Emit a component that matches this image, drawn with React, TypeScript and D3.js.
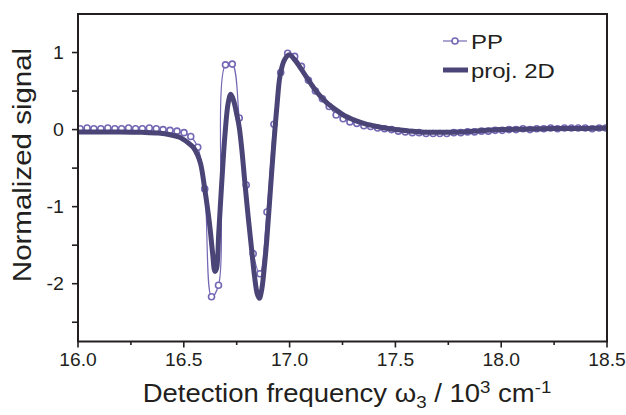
import React from 'react'
import * as d3 from 'd3'

// pump-probe spectrum (circles + thin line)
const ppFreq = [
  16.01, 16.043, 16.075, 16.108, 16.141, 16.174, 16.206, 16.239, 16.272, 16.304,
  16.337, 16.37, 16.402, 16.435, 16.468, 16.501, 16.533, 16.566, 16.599, 16.631,
  16.664, 16.697, 16.729, 16.762, 16.795, 16.828, 16.86, 16.893, 16.926, 16.958,
  16.991, 17.024, 17.056, 17.089, 17.122, 17.155, 17.187, 17.22, 17.253, 17.285,
  17.318, 17.351, 17.383, 17.416, 17.449, 17.482, 17.514, 17.547, 17.58, 17.612,
  17.645, 17.678, 17.71, 17.743, 17.776, 17.809, 17.841, 17.874, 17.907, 17.939,
  17.972, 18.005, 18.037, 18.07, 18.103, 18.136, 18.168, 18.201, 18.234, 18.266,
  18.299, 18.332, 18.364, 18.397, 18.43, 18.463, 18.495
]
const ppSignal = [
  0.01, 0.02, 0.01, 0.01, 0.02, 0.01, 0.01, 0.02, 0.01, 0.01,
  0.02, 0.01, 0.0, -0.01, -0.02, -0.04, -0.09, -0.23, -0.77, -2.17,
  -2.02, 0.84, 0.85, 0.15, -0.72, -1.61, -1.87, -1.07, 0.07, 0.74,
  0.99, 0.95, 0.82, 0.64, 0.5, 0.4, 0.3, 0.19, 0.14, 0.1,
  0.08, 0.05, 0.04, 0.02, 0.01, 0.0, -0.02, -0.03, -0.04, -0.04,
  -0.05, -0.05, -0.05, -0.05, -0.04, -0.04, -0.03, -0.03, -0.02, -0.02,
  -0.01, -0.01, 0.0, 0.0, 0.01, 0.0, 0.01, 0.01, 0.02, 0.01,
  0.02, 0.02, 0.02, 0.02, 0.01, 0.02, 0.02
]

// projected 2D spectrum (thick line)
const projFreq = [
  16.0, 16.1, 16.2, 16.3, 16.38, 16.44, 16.48, 16.52, 16.545, 16.565,
  16.58, 16.6, 16.612, 16.624, 16.636, 16.647, 16.655, 16.665, 16.68, 16.695,
  16.71, 16.722, 16.735, 16.75, 16.762, 16.775, 16.789, 16.805, 16.821, 16.835,
  16.847, 16.857, 16.868, 16.88, 16.892, 16.905, 16.923, 16.94, 16.955, 16.975,
  16.999, 17.02, 17.049, 17.08, 17.112, 17.14, 17.175, 17.222, 17.26, 17.3,
  17.35, 17.395, 17.45, 17.5, 17.553, 17.62, 17.71, 17.8, 17.9, 18.0,
  18.1, 18.2, 18.3, 18.4, 18.5
]
const projSignal = [
  -0.03, -0.03, -0.03, -0.035, -0.045, -0.07, -0.1, -0.17, -0.23, -0.33,
  -0.45, -0.79, -1.02, -1.28, -1.6, -1.84, -1.8, -1.35, -0.66, -0.05,
  0.35, 0.46, 0.38, 0.2, 0.03, -0.28, -0.7, -1.15, -1.57, -1.92,
  -2.13, -2.19, -2.08, -1.8, -1.44, -0.95, -0.27, 0.3, 0.7, 0.9,
  0.97, 0.92, 0.81, 0.68, 0.55, 0.45, 0.35, 0.25, 0.18, 0.13,
  0.08, 0.05, 0.02, 0.0, -0.015, -0.03, -0.035, -0.03, -0.015, 0.0,
  0.005, 0.01, 0.015, 0.015, 0.02
]

const xMajor = [16.0, 16.5, 17.0, 17.5, 18.0, 18.5]
const xMinor = [16.25, 16.75, 17.25, 17.75, 18.25]
const yTicks = [-2.5, -2, -1.5, -1, -0.5, 0, 0.5, 1]
const yLabels = [-2, -1, 0, 1]

const ppColor = '#7468b4'
const projColor = '#4b4577'
const axisColor = '#231f20'
const font = '"Liberation Sans", Arial, sans-serif'

export default function App() {
  const left = 78
  const right = 607
  const top = 14
  const bottom = 341.5

  const x = d3.scaleLinear().domain([16, 18.5]).range([left, right])
  const y = d3.scaleLinear().domain([-2.75, 1.5]).range([bottom, top])

  const pp = ppFreq.map((f, i) => [f, ppSignal[i]] as [number, number])
  const proj = projFreq.map((f, i) => [f, projSignal[i]] as [number, number])

  const line = d3
    .line<[number, number]>()
    .x(d => x(d[0]))
    .y(d => y(d[1]))
    .curve(d3.curveCatmullRom.alpha(0.5))

  return (
    <svg
      width={626}
      height={415}
      style={{ position: 'absolute', left: 0, top: 0, background: '#fff' }}
      fontFamily={font}
    >
      <defs>
        <clipPath id="plot">
          <rect x={left} y={top} width={right - left} height={bottom - top} />
        </clipPath>
      </defs>

      {/* data */}
      <g clipPath="url(#plot)">
        <path d={line(pp) || ''} fill="none" stroke={ppColor} strokeWidth={1.2} />
        {pp.map((d, i) => (
          <circle
            key={i}
            cx={x(d[0])}
            cy={y(d[1])}
            r={3}
            fill="#fff"
            stroke={ppColor}
            strokeWidth={1.6}
          />
        ))}
        <path d={line(proj) || ''} fill="none" stroke={projColor} strokeWidth={5} strokeLinejoin="round" />
      </g>

      {/* frame */}
      <rect
        x={left}
        y={top}
        width={right - left}
        height={bottom - top}
        fill="none"
        stroke={axisColor}
        strokeWidth={2}
      />

      {/* x ticks */}
      {xMajor.map(t => (
        <g key={'xM' + t}>
          <line x1={x(t)} x2={x(t)} y1={bottom} y2={bottom + 6} stroke={axisColor} strokeWidth={1.6} />
          <text
            transform={`translate(${x(t)}, 366) scale(1.1, 1)`}
            textAnchor="middle"
            fontSize={17.5}
            fill={axisColor}
          >
            {t.toFixed(1)}
          </text>
        </g>
      ))}
      {xMinor.map(t => (
        <line key={'xm' + t} x1={x(t)} x2={x(t)} y1={bottom} y2={bottom + 3.5} stroke={axisColor} strokeWidth={1.6} />
      ))}

      {/* y ticks */}
      {yTicks.map(t => (
        <line key={'y' + t} x1={left - 6} x2={left} y1={y(t)} y2={y(t)} stroke={axisColor} strokeWidth={1.6} />
      ))}
      {yLabels.map(t => (
        <text
          key={'yl' + t}
          transform={`translate(64, ${y(t) + 6}) scale(1.12, 1)`}
          textAnchor="end"
          fontSize={17.5}
          fill={axisColor}
        >
          {t}
        </text>
      ))}

      {/* axis titles */}
      <text
        transform="translate(347, 402) scale(1.1, 1)"
        textAnchor="middle"
        fontSize={25}
        fill={axisColor}
      >
        Detection frequency ω
        <tspan fontSize={17} dy={6}>3</tspan>
        <tspan dy={-6}> / 10</tspan>
        <tspan fontSize={17} dy={-9}>3</tspan>
        <tspan dy={9}> cm</tspan>
        <tspan fontSize={17} dy={-9}>-1</tspan>
      </text>
      <text
        transform="translate(31, 165) rotate(-90) scale(1.18, 1)"
        textAnchor="middle"
        fontSize={25}
        fill={axisColor}
      >
        Normalized signal
      </text>

      {/* legend */}
      <line x1={443} x2={467} y1={41} y2={41} stroke={ppColor} strokeWidth={1.2} />
      <circle cx={455} cy={41} r={3} fill="#fff" stroke={ppColor} strokeWidth={1.6} />
      <text transform="translate(471, 49) scale(1.14, 1)" fontSize={21} fill={axisColor}>PP</text>
      <line x1={443} x2={468} y1={70} y2={70} stroke={projColor} strokeWidth={5} />
      <text transform="translate(471, 78) scale(1.14, 1)" fontSize={21} fill={axisColor}>proj. 2D</text>
    </svg>
  )
}
